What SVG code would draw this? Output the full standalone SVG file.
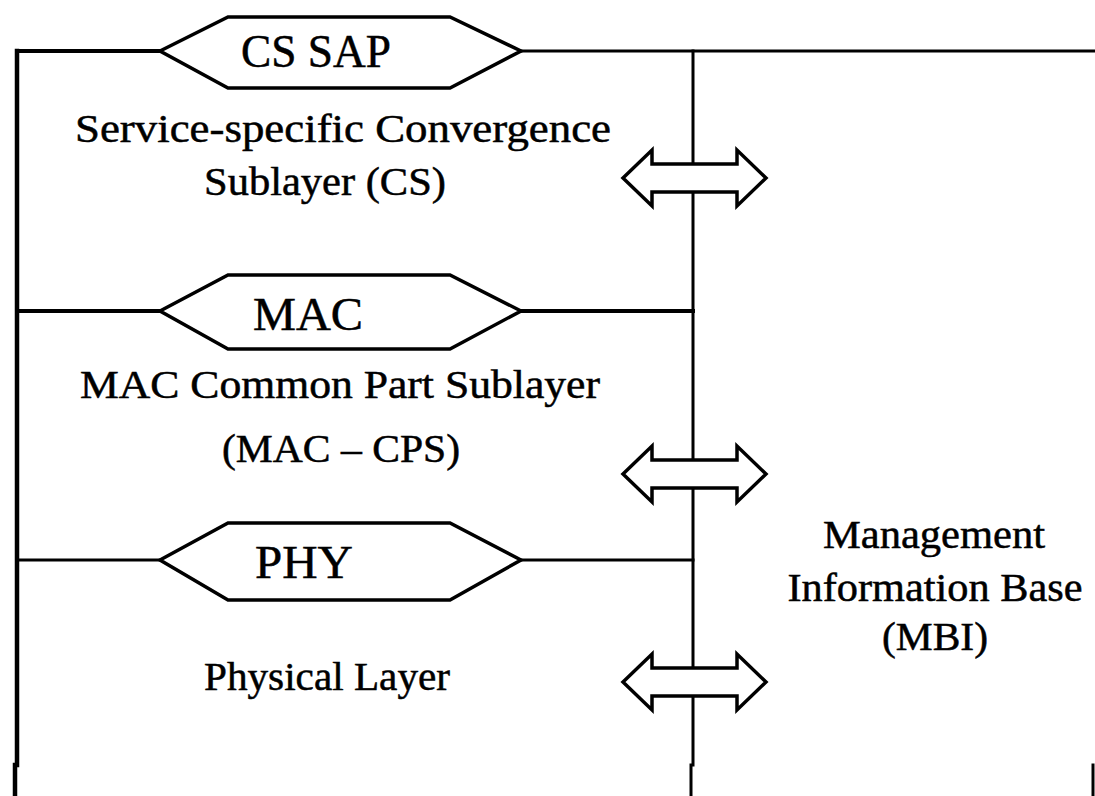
<svg xmlns="http://www.w3.org/2000/svg" width="1095" height="796" viewBox="0 0 1095 796">
  <style>
    .ln { stroke: #000; fill: none; stroke-linecap: square; }
    .sap { stroke: #000; stroke-width: 3.5; fill: #fff; stroke-linejoin: miter; }
    .arr { stroke: #000; stroke-width: 3.5; fill: #fff; stroke-linejoin: miter; }
    .lbl { font-family: "Liberation Serif", "Times New Roman", serif; fill: #000; stroke: #000; stroke-width: 0.5; text-anchor: middle; }
    .sapt { font-size: 46px; }
    .body { font-size: 39px; }
  </style>
  <defs>
    <!-- double-headed block arrow, centred on the origin -->
    <path id="dblArrow" class="arr" d="M -71 0 L -42 -28 L -42 -14 L 43 -14 L 43 -28 L 72 0 L 43 28 L 43 14 L -42 14 L -42 28 Z"/>
  </defs>
  <rect width="1095" height="796" fill="#fff"/>

  <g id="connectors">
    <!-- outer frame and layer boundaries -->
    <line class="ln" x1="17" y1="51" x2="160" y2="51" stroke-width="4"/>
    <line class="ln" x1="521" y1="51" x2="1095" y2="51" stroke-width="3"/>
    <line class="ln" x1="17" y1="51" x2="17" y2="765" stroke-width="4.5"/>
    <line class="ln" x1="15" y1="765" x2="15" y2="796" stroke-width="4.5"/>
    <line class="ln" x1="693" y1="51" x2="693" y2="765" stroke-width="3"/>
    <line class="ln" x1="691" y1="765" x2="691" y2="796" stroke-width="3"/>
    <line class="ln" x1="1093" y1="765" x2="1093" y2="796" stroke-width="3"/>
    <line class="ln" x1="17" y1="311" x2="160" y2="311" stroke-width="4"/>
    <line class="ln" x1="521" y1="311" x2="693" y2="311" stroke-width="4"/>
    <line class="ln" x1="17" y1="560" x2="160" y2="560" stroke-width="3"/>
    <line class="ln" x1="521" y1="560" x2="693" y2="560" stroke-width="3"/>
  </g>

  <g id="cs-sap">
    <polygon class="sap" points="160,51 228,17 450,17 521,51 450,88 228,88"/>
    <text class="lbl sapt" x="316" y="67" textLength="150" lengthAdjust="spacingAndGlyphs">CS SAP</text>
  </g>

  <g id="cs-layer">
    <text class="lbl body" x="343" y="142" textLength="536" lengthAdjust="spacingAndGlyphs">Service-specific Convergence</text>
    <text class="lbl body" x="325" y="195" textLength="242" lengthAdjust="spacingAndGlyphs">Sublayer (CS)</text>
  </g>

  <g id="mac-sap">
    <polygon class="sap" points="160,311 228,275 450,275 521,311 450,349 228,349"/>
    <text class="lbl sapt" x="308" y="330" textLength="110" lengthAdjust="spacingAndGlyphs">MAC</text>
  </g>

  <g id="mac-cps">
    <text class="lbl body" x="340" y="398" textLength="520" lengthAdjust="spacingAndGlyphs">MAC Common Part Sublayer</text>
    <text class="lbl body" x="341" y="462" textLength="238" lengthAdjust="spacingAndGlyphs">(MAC – CPS)</text>
  </g>

  <g id="phy-sap">
    <polygon class="sap" points="160,560 228,523 450,523 521,560 450,600 228,600"/>
    <text class="lbl sapt" x="304" y="578" textLength="98" lengthAdjust="spacingAndGlyphs">PHY</text>
  </g>

  <g id="phy-layer">
    <text class="lbl body" x="327" y="690" textLength="246" lengthAdjust="spacingAndGlyphs">Physical Layer</text>
  </g>

  <g id="mib">
    <text class="lbl body" x="934" y="548" textLength="222" lengthAdjust="spacingAndGlyphs">Management</text>
    <text class="lbl body" x="935" y="601" textLength="295" lengthAdjust="spacingAndGlyphs">Information Base</text>
    <text class="lbl body" x="935" y="650" textLength="106" lengthAdjust="spacingAndGlyphs">(MBI)</text>
  </g>

  <g id="mgmt-arrows">
    <use href="#dblArrow" x="694" y="178"/>
    <use href="#dblArrow" x="694" y="474"/>
    <use href="#dblArrow" x="694" y="682"/>
  </g>
</svg>
